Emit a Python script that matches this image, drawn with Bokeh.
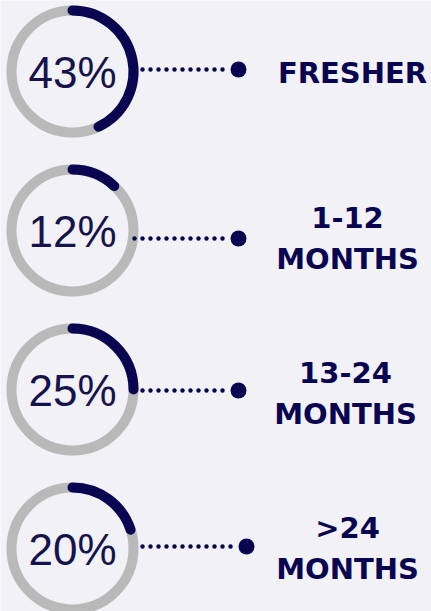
import numpy as np
from bokeh.plotting import figure
from bokeh.models import Range1d
from bokeh.core.properties import value
from bokeh.embed import file_html
from bokeh.resources import INLINE

# ---- data ----
percents = [43, 12, 25, 20]
pct_labels = ["43%", "12%", "25%", "20%"]
categories = ["FRESHER", "1-12\nMONTHS", "13-24\nMONTHS", ">24\nMONTHS"]

# ---- layout / style ----
W, H = 431, 611
BG = "#f1f1f6"
NAVY = "#0a0550"
TEXT_NAVY = "#16134c"
GRAY = "#b9b9b9"
cx = 72
row_pix = [71 + 159 * i for i in range(len(percents))]          # ring centres (px from top)
conn_dy = [-2, 8, 1, -2]                                         # connector offset (px)
dot_start = [142, 134, 142, 142]
dot_end = [223, 223, 223, 230]
big_x = [238, 238, 238, 246]
label_x = [352, 347, 345, 347]
label_dy = [1, 8, 4, 0]

p = figure(width=W, height=H, x_range=Range1d(0, W), y_range=Range1d(0, H),
           output_backend="svg", toolbar_location=None, min_border=0)
p.axis.visible = False
p.grid.visible = False
p.outline_line_color = None
p.background_fill_color = BG
p.border_fill_color = BG

ys = [H - r for r in row_pix]

# gray rings
p.circle(x=[cx] * len(ys), y=ys, radius=61, radius_units="screen",
         fill_color=None, line_color=GRAY, line_width=10)

# progress arcs (clockwise from 12 o'clock)
start = [np.pi / 2 - 2 * np.pi * v / 100 for v in percents]
p.arc(x=[cx] * len(ys), y=ys, radius=61, radius_units="screen",
      start_angle=start, end_angle=[np.pi / 2] * len(ys), direction="anticlock",
      line_color=NAVY, line_width=10, line_cap="round")

# percentage text
p.text(x=[cx] * len(ys), y=[y - 1 for y in ys], text=pct_labels,
       text_font=value("Liberation Sans"), text_font_size="44px",
       text_color=TEXT_NAVY, text_align="center", text_baseline="middle")

# connectors
for i, y in enumerate(ys):
    yy = y - conn_dy[i]
    xs = np.arange(dot_start[i], dot_end[i] + 1, 8)
    p.scatter(x=xs, y=[yy] * len(xs), size=4.5, color=NAVY, line_color=None)
    p.scatter(x=[big_x[i]], y=[yy], size=16, color=NAVY, line_color=None)

# category labels
p.text(x=label_x, y=[y - d for y, d in zip(ys, label_dy)], text=categories,
       text_font=value("DejaVu Sans"), text_font_style="bold", text_font_size="29px",
       text_color=NAVY, text_align="center", text_baseline="middle",
       text_line_height=1.2)

open("out.html", "w").write(file_html(p, INLINE))
